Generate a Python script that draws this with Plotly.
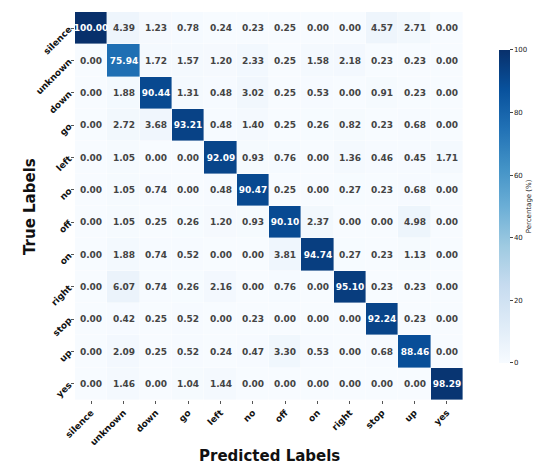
import plotly.graph_objects as go

# class labels (same for true and predicted)
labels = ["silence", "unknown", "down", "go", "left", "no",
          "off", "on", "right", "stop", "up", "yes"]

# confusion matrix in percent, rows = true label, cols = predicted label
row_silence = [100.00, 4.39, 1.23, 0.78, 0.24, 0.23, 0.25, 0.00, 0.00, 4.57, 2.71, 0.00]
row_unknown = [0.00, 75.94, 1.72, 1.57, 1.20, 2.33, 0.25, 1.58, 2.18, 0.23, 0.23, 0.00]
row_down = [0.00, 1.88, 90.44, 1.31, 0.48, 3.02, 0.25, 0.53, 0.00, 0.91, 0.23, 0.00]
row_go = [0.00, 2.72, 3.68, 93.21, 0.48, 1.40, 0.25, 0.26, 0.82, 0.23, 0.68, 0.00]
row_left = [0.00, 1.05, 0.00, 0.00, 92.09, 0.93, 0.76, 0.00, 1.36, 0.46, 0.45, 1.71]
row_no = [0.00, 1.05, 0.74, 0.00, 0.48, 90.47, 0.25, 0.00, 0.27, 0.23, 0.68, 0.00]
row_off = [0.00, 1.05, 0.25, 0.26, 1.20, 0.93, 90.10, 2.37, 0.00, 0.00, 4.98, 0.00]
row_on = [0.00, 1.88, 0.74, 0.52, 0.00, 0.00, 3.81, 94.74, 0.27, 0.23, 1.13, 0.00]
row_right = [0.00, 6.07, 0.74, 0.26, 2.16, 0.00, 0.76, 0.00, 95.10, 0.23, 0.23, 0.00]
row_stop = [0.00, 0.42, 0.25, 0.52, 0.00, 0.23, 0.00, 0.00, 0.00, 92.24, 0.23, 0.00]
row_up = [0.00, 2.09, 0.25, 0.52, 0.24, 0.47, 3.30, 0.53, 0.00, 0.68, 88.46, 0.00]
row_yes = [0.00, 1.46, 0.00, 1.04, 1.44, 0.00, 0.00, 0.00, 0.00, 0.00, 0.00, 98.29]

z = [row_silence, row_unknown, row_down, row_go, row_left, row_no,
     row_off, row_on, row_right, row_stop, row_up, row_yes]

# matplotlib "Blues"
blues = [[0.0, "#f7fbff"], [0.125, "#deebf7"], [0.25, "#c6dbef"],
         [0.375, "#9ecae1"], [0.5, "#6baed6"], [0.625, "#4292c6"],
         [0.75, "#2171b5"], [0.875, "#08519c"], [1.0, "#08306b"]]

fnt = "DejaVu Sans"

heat = go.Heatmap(
    z=z, x=labels, y=labels,
    colorscale=blues, zmin=0, zmax=100,
    texttemplate="%{z:.2f}",
    textfont=dict(family=fnt, size=9, weight="bold"),
    xgap=0.4, ygap=0.4,
    colorbar=dict(
        x=1.093, xanchor="left", y=0.499, yanchor="middle",
        xpad=0, ypad=0,
        thickness=11, len=313, lenmode="pixels",
        outlinewidth=0,
        tickvals=[0, 20, 40, 60, 80, 100],
        ticks="outside", ticklen=3, tickfont=dict(family=fnt, size=7, color="#222"),
        title=dict(text="Percentage (%)", side="right",
                   font=dict(family=fnt, size=7, color="#222")),
    ),
)

# page body adds an 8px offset, margins compensate for it
layout = go.Layout(
    width=550, height=471,
    margin=dict(l=67, r=95, t=4, b=79),
    paper_bgcolor="white", plot_bgcolor="white",
    font=dict(family=fnt, color="#111"),
    xaxis=dict(
        automargin=False,
        tickangle=-45, ticks="outside", ticklen=3, tickcolor="#555",
        tickfont=dict(family=fnt, size=9, weight="bold"),
        showgrid=False, zeroline=False,
    ),
    yaxis=dict(
        automargin=False,
        autorange="reversed", tickangle=-45, ticks="outside", ticklen=3, tickcolor="#555",
        tickfont=dict(family=fnt, size=9, weight="bold"),
        showgrid=False, zeroline=False,
    ),
    annotations=[
        dict(text="Predicted Labels", xref="paper", yref="paper",
             x=0.5, y=-0.144, xanchor="center", yanchor="middle", showarrow=False,
             font=dict(family=fnt, size=15, weight="bold", color="#111")),
        dict(text="True Labels", xref="paper", yref="paper", textangle=-90,
             x=-0.116, y=0.5, xanchor="center", yanchor="middle", showarrow=False,
             font=dict(family=fnt, size=15, weight="bold", color="#111")),
    ],
)

fig = go.Figure(data=[heat], layout=layout)
fig.write_html("out.html")
